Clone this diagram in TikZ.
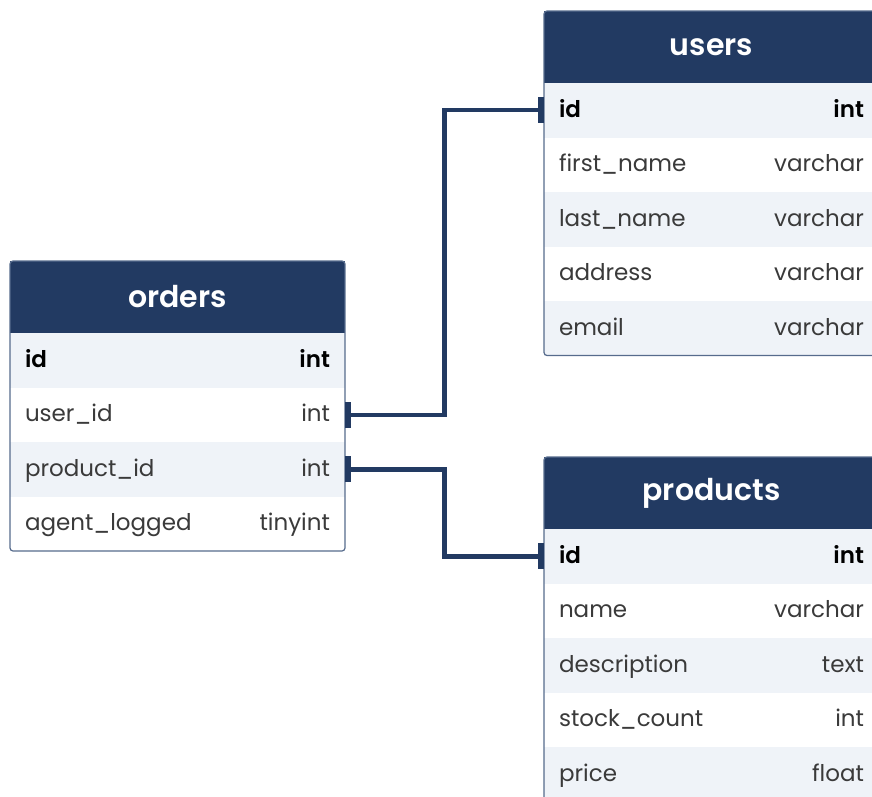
\documentclass[tikz,border=0pt]{standalone}
\usepackage{fontspec}
\setmainfont{Poppins}[BoldFont={Poppins SemiBold}]
\usetikzlibrary{math,positioning,calc,arrows.meta}
\definecolor{navy}{HTML}{223A62}
\definecolor{rowgray}{HTML}{EFF3F8}
\definecolor{txtgray}{HTML}{3A3A3A}
\definecolor{edge}{HTML}{566B8C}

\begin{document}
\begin{tikzpicture}[x=1pt,y=-1pt,
    hdr/.style={fill=navy, text=white, font=\fontsize{30}{33}\selectfont\bfseries,
      minimum width=335pt, minimum height=72pt, inner sep=0pt, outer sep=0pt},
    fld/.style={minimum height=54.5pt, text width=305pt, inner xsep=15pt, inner ysep=0pt,
      outer sep=0pt, align=left, text height=18pt, text depth=4pt,
      text=txtgray, font=\fontsize{23}{27}\selectfont},
    odd/.style={fld, fill=rowgray},
    even/.style={fld, fill=white},
    key/.style={odd, text=black, font=\fontsize{23}{27}\selectfont\bfseries},
    frame/.style={draw=edge, line width=1.2pt, rounded corners=3pt},
    link/.style={draw=navy, line width=4.5pt,
      {Rectangle[length=6pt,width=26pt]}-{Rectangle[length=6pt,width=26pt]}}]
      \useasboundingbox (0,0) rectangle (872,797);
      % orders
      \node[hdr, anchor=north west] (oh) at (10,261) {orders};
      \node[key, below=0pt of oh] (o1) {id\hfill int};
      \node[even, below=0pt of o1] (o2) {user\_id\hfill int};
      \node[odd, below=0pt of o2] (o3) {product\_id\hfill int};
      \node[even, below=0pt of o3] (o4) {agent\_logged\hfill tinyint};
      \draw[frame] (oh.north west) rectangle (o4.south east);
      % users
      \node[hdr, anchor=north west] (uh) at (544,11) {users};
      \node[key, below=0pt of uh] (u1) {id\hfill int};
      \node[even, below=0pt of u1] (u2) {first\_name\hfill varchar};
      \node[odd, below=0pt of u2] (u3) {last\_name\hfill varchar};
      \node[even, below=0pt of u3] (u4) {address\hfill varchar};
      \node[odd, below=0pt of u4] (u5) {email\hfill varchar};
      \draw[frame] (uh.north west) rectangle (u5.south east);
      % products
      \node[hdr, anchor=north west] (ph) at (544,457) {products};
      \node[key, below=0pt of ph] (p1) {id\hfill int};
      \node[even, below=0pt of p1] (p2) {name\hfill varchar};
      \node[odd, below=0pt of p2] (p3) {description\hfill text};
      \node[even, below=0pt of p3] (p4) {stock\_count\hfill int};
      \node[odd, below=0pt of p4] (p5) {price\hfill float};
      \draw[frame] (ph.north west) rectangle (p5.south east);
      % links
      \draw[link] (o2.east) -| ($(o2.east)!.5!(u1.west)$) |- (u1.west);
      \draw[link] (o3.east) -| ($(o3.east)!.5!(p1.west)$) |- (p1.west);
\end{tikzpicture}
\end{document}
